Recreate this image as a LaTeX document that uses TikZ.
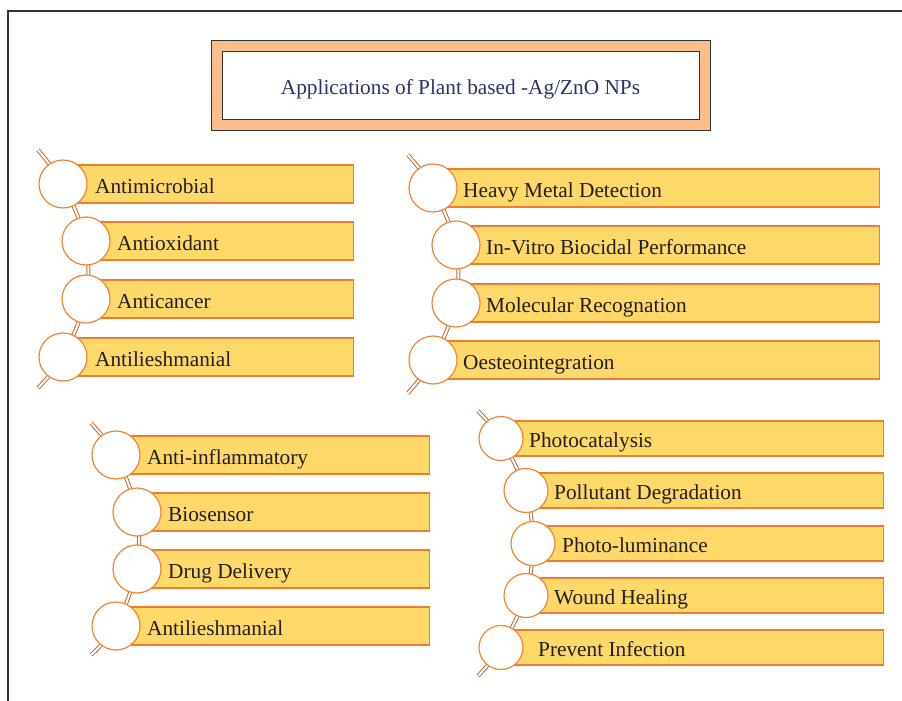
\documentclass[tikz,border=0pt]{standalone}
\usepackage{fontspec}
\setmainfont{Liberation Serif}
\usetikzlibrary{backgrounds}
\definecolor{barfill}{HTML}{FED969}
\definecolor{barline}{HTML}{EE7E2E}
\definecolor{circline}{HTML}{EF8535}
\definecolor{stemc}{HTML}{C06A30}
\definecolor{titlefill}{HTML}{F9BE8C}
\definecolor{titletext}{HTML}{2C3466}
\definecolor{itemtext}{HTML}{231F20}
\definecolor{framec}{HTML}{333333}
\tikzset{
  barbox/.style={draw=barline, fill=barfill, line width=1.1pt, rectangle, inner sep=0pt, anchor=west},
  bubble/.style={draw=circline, fill=white, line width=1.2pt, circle, inner sep=0pt},
  itemlabel/.style={anchor=base west, inner sep=0pt, text=itemtext, font=\fontsize{21.3}{25}\selectfont},
  stemline/.style={draw=stemc, double=white, double distance=2pt, line width=1pt},
  titlebox/.style={draw=framec, line width=1pt, rectangle, inner sep=0pt},
}
% #1 name, #2 cx, #3 cy, #4 bar right, #5 text x, #6 text, #7 diameter, #8 bar height
\newcommand\appitem[8]{%
  \node[barbox, minimum width={#4-#2}, minimum height=#8] (#1bar) at (#2,#3) {};
  \node[bubble, minimum size=#7] (#1) at (#2,#3) {};
  \node[itemlabel] (#1txt) at (#5,#3+9) {#6};
}
\begin{document}
\begin{tikzpicture}[x=1pt,y=-1pt]
\useasboundingbox (0,0) rectangle (902,701);
\coordinate (frameA) at (8,701);
\coordinate (frameB) at (8,11);
\coordinate (frameC) at (902,11);
\draw[framec, line width=1.2pt] (frameA) -- (frameB) -- (frameC);

% title
\node[titlebox, fill=titlefill, minimum width=499, minimum height=89] (titleouter) at (460.5,85.5) {};
\node[titlebox, fill=white, minimum width=477, minimum height=67] (titleinner) at (460.5,85.5) {};
\node[anchor=base, inner sep=0pt, text=titletext, font=\fontsize{21.3}{25}\selectfont] (titletxt) at (460.5,95) {Applications of Plant based -Ag/ZnO NPs};

% group 1
\appitem{a1}{63}{184}{353}{95}{Antimicrobial}{48}{38}
\appitem{a2}{86}{241}{353}{117}{Antioxidant}{48}{38}
\appitem{a3}{86}{299}{353}{117}{Anticancer}{48}{38}
\appitem{a4}{63}{357}{353}{95}{Antilieshmanial}{48}{38}
\coordinate (a0) at (38,150);
\coordinate (a5) at (38,388);

% group 2
\appitem{b1}{433}{188}{879}{463}{Heavy Metal Detection}{48}{38}
\appitem{b2}{456}{245}{879}{486}{In-Vitro Biocidal Performance}{48}{38}
\appitem{b3}{456}{303}{879}{486}{Molecular Recognation}{48}{38}
\appitem{b4}{433}{360}{879}{463}{Oesteointegration}{48}{38}
\coordinate (b0) at (408,155);
\coordinate (b5) at (408,393);

% group 3
\appitem{c1}{116}{455}{429}{147}{Anti-inflammatory}{48}{38}
\appitem{c2}{137}{512}{429}{168}{Biosensor}{48}{38}
\appitem{c3}{137}{569}{429}{168}{Drug Delivery}{48}{38}
\appitem{c4}{116}{626}{429}{147}{Antilieshmanial}{48}{38}
\coordinate (c0) at (91,423);
\coordinate (c5) at (91,655);

% group 4
\appitem{d1}{501}{438.5}{883}{529}{Photocatalysis}{44}{35}
\appitem{d2}{526}{490.5}{883}{554}{Pollutant Degradation}{44}{35}
\appitem{d3}{533}{543.5}{883}{562}{Photo-luminance}{44}{35}
\appitem{d4}{526}{595.5}{883}{554}{Wound Healing}{44}{35}
\appitem{d5}{501}{647.5}{883}{538}{Prevent Infection}{44}{35}
\coordinate (d0) at (478,411);
\coordinate (d6) at (478,676);

\begin{scope}[on background layer]
  \draw[stemline] plot[smooth] coordinates {(a0) (a1.center) (a2.center) (a3.center) (a4.center) (a5)};
  \draw[stemline] plot[smooth] coordinates {(b0) (b1.center) (b2.center) (b3.center) (b4.center) (b5)};
  \draw[stemline] plot[smooth] coordinates {(c0) (c1.center) (c2.center) (c3.center) (c4.center) (c5)};
  \draw[stemline] plot[smooth] coordinates {(d0) (d1.center) (d2.center) (d3.center) (d4.center) (d5.center) (d6)};
\end{scope}
\end{tikzpicture}
\end{document}
